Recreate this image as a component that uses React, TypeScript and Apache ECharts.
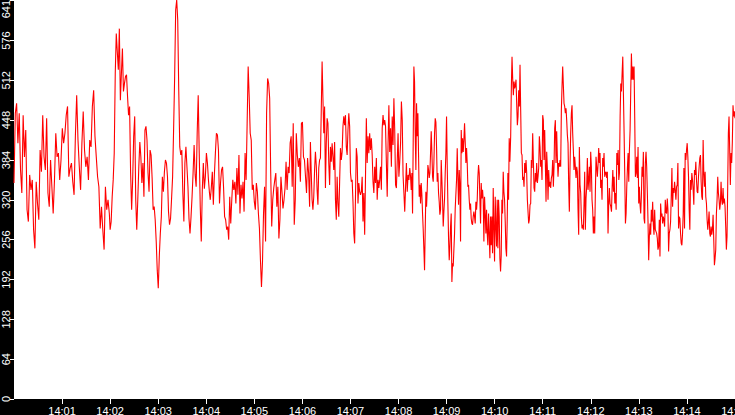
import React, { useEffect, useRef } from 'react';
import * as echarts from 'echarts';

// tick values / labels
const yTickValues = [0, 64, 128, 192, 256, 320, 384, 448, 512, 576, 641];
const xTickSeconds = [60, 120, 180, 240, 300, 360, 420, 480, 540, 600, 660, 720, 780, 840, 900];
const xTickLabels = ['14:01', '14:02', '14:03', '14:04', '14:05', '14:06', '14:07', '14:08', '14:09', '14:10', '14:11', '14:12', '14:13', '14:14', '14:15'];

// samples, one array per stretch of time (seconds after 14:00)
const spans = [
  [0, 119],
  [120, 244],
  [245, 369],
  [370, 494],
  [495, 619],
  [620, 744],
  [745, 900],
];

const from1400 = [
  347, 459, 475, 411, 459, 368, 331, 456, 389, 432, 304, 285, 360, 336, 352, 272, 242, 349, 314, 288,
  400, 365, 456, 389, 368, 451, 331, 309, 384, 341, 298, 352, 427, 389, 395, 352, 384, 435, 411, 427,
  456, 470, 357, 371, 379, 349, 328, 422, 488, 416, 373, 336, 411, 462, 400, 373, 389, 352, 416, 405,
  470, 496, 422, 389, 357, 341, 274, 309, 272, 240, 341, 304, 320, 298,
];

const from1402 = [
  272, 285, 325, 352, 395, 523, 587, 558, 529, 595, 480, 523, 563, 494, 507, 518, 521, 486, 456, 470,
  363, 304, 352, 422, 454, 320, 272, 320, 373, 413, 389, 347, 379, 325, 432, 438, 416, 363, 333, 400,
  392, 355, 304, 309, 288, 253, 207, 178, 229, 266, 293, 357, 333, 365, 384, 379, 357, 301, 280, 290,
  322, 357, 435, 518, 625, 641, 609, 496, 405, 392, 400, 331, 285, 379, 405, 373, 341, 290, 266, 293,
  325, 363, 408, 360, 341, 427, 488, 395, 309, 253, 336, 379, 338, 357, 395, 379, 352, 331,
];

const from1404 = [
  320, 339, 365, 312, 360, 395, 427, 424, 400, 314, 347, 368, 373, 339, 293, 288, 272, 277, 256, 325,
  282, 320, 352, 336, 349, 314, 371, 328, 392, 298, 344, 322, 349, 301, 395, 352, 443, 534, 486, 427,
  416, 336, 344, 317, 304, 347, 333, 298, 274, 223, 180, 221, 298, 341, 253, 459, 515, 507, 483, 365,
  277, 320, 339, 352, 363, 309, 341, 258, 288, 357, 333, 306, 320, 339, 381, 336, 373, 363, 411, 422,
  341, 443, 280, 320, 427, 392, 373, 387, 349, 443, 445, 389, 384, 357, 331, 387, 363, 309,
];

const from1406 = [
  413, 363, 320, 304, 325, 368, 397, 376, 336, 312, 371, 384, 387, 464, 542, 483, 427, 470, 339, 411,
  451, 443, 379, 344, 405, 381, 411, 389, 368, 413, 320, 288, 357, 314, 293, 349, 403, 384, 397, 438,
  454, 440, 456, 405, 392, 432, 459, 438, 363, 349, 352, 317, 266, 250, 325, 403, 389, 314, 347, 333,
  328, 333, 357, 285, 331, 264, 357, 451, 379, 422, 395, 427, 400, 419, 392, 349, 331, 373, 347, 387,
  320, 352, 339, 352, 373, 336, 435, 456, 440, 448, 438, 379, 325, 408, 472, 397, 435, 373, 454, 408,
  483, 432, 344, 339, 381, 427, 357, 381, 411, 478, 448, 360, 331, 301, 341, 379, 333, 360, 352, 371,
];

const from1408 = [
  357, 336, 363, 298, 416, 534, 510, 427, 368, 475, 422, 459, 392, 325, 344, 314, 347, 328, 298, 272,
  240, 207, 272, 333, 309, 336, 376, 368, 355, 363, 395, 430, 397, 357, 349, 379, 427, 451, 445, 405,
  349, 363, 331, 317, 296, 304, 384, 352, 320, 277, 301, 322, 363, 395, 454, 376, 314, 258, 223, 245,
  277, 298, 188, 218, 213, 240, 266, 306, 306, 352, 403, 357, 312, 368, 344, 253, 432, 395, 419, 397,
  416, 443, 413, 379, 403, 379, 341, 344, 320, 304, 314, 290, 282, 280, 293, 301, 293, 282, 317, 304,
  320, 357, 376, 363, 320, 282, 347, 322, 336, 320, 253, 325, 298, 266, 304, 266, 247, 298, 266, 226,
  293, 247, 293, 234, 339, 274, 221, 325, 277, 245, 320, 242, 320, 293, 226, 205, 231, 320, 298, 365,
  333, 320, 285, 242, 229, 288, 363, 320, 419, 381,
];

const from1410 = [
  422, 502, 550, 515, 488, 510, 499, 504, 513, 475, 440, 454, 496, 470, 537, 464, 395, 392, 352, 357,
  341, 379, 363, 384, 363, 320, 320, 282, 288, 312, 314, 384, 371, 427, 384, 339, 333, 363, 349, 379,
  347, 357, 371, 422, 405, 373, 384, 352, 456, 448, 384, 432, 379, 317, 397, 371, 320, 368, 341, 349,
  339, 355, 360, 384, 341, 373, 435, 448, 379, 430, 387, 357, 379, 373, 384, 373, 464, 502, 534, 504,
  475, 470, 459, 467, 448, 424, 411, 344, 301, 373, 427, 459, 472, 427, 400, 368, 389, 373, 355, 373,
  365, 304, 264, 405, 344, 331, 293, 274, 280, 272, 314, 365, 272, 322, 341, 387, 336, 352, 373, 333,
  397, 373, 320, 304, 266, 293, 266, 331, 389, 373, 357, 376, 403, 379, 395, 339, 352, 320, 387, 373,
  395, 357, 363, 365, 355, 365, 266, 314, 339, 314,
];

const from1412 = [
  309, 301, 341, 368, 333, 357, 314, 331, 304, 395, 376, 400, 352, 363, 454, 507, 494, 523, 550, 488,
  427, 360, 282, 298, 341, 371, 395, 349, 400, 432, 496, 555, 513, 534, 513, 534, 451, 357, 363, 389,
  355, 405, 314, 341, 312, 298, 325, 373, 357, 397, 290, 282, 379, 397, 373, 331, 285, 223, 261, 282,
  264, 304, 285, 317, 280, 264, 304, 272, 272, 266, 258, 240, 245, 288, 229, 314, 293, 298, 282, 293,
  288, 277, 320, 301, 298, 322, 304, 237, 266, 272, 285, 325, 371, 309, 339, 331, 349, 336, 320, 341,
  344, 379, 274, 293, 290, 266, 250, 247, 266, 298, 371, 274, 395, 384, 400, 411, 389, 357, 304, 272,
  352, 336, 363, 352, 336, 312, 368, 360, 381, 352, 333, 331, 357, 373, 387, 392, 349, 325, 320, 416,
  363, 341, 365, 325, 314, 288, 272, 285, 301, 266, 261, 277, 264, 272, 296, 256, 215, 226, 240, 298,
  320, 357, 331, 320, 304, 314, 349, 320, 312, 339, 314, 322, 309, 277, 240, 261, 341, 427, 454, 400,
  344, 395, 379, 413, 472, 454, 462, 451,
];

const segments = [from1400, from1402, from1404, from1406, from1408, from1410, from1412];

const App: React.FC = () => {
  const chartRef = useRef<HTMLDivElement>(null);

  useEffect(() => {
    if (!chartRef.current) return;
    const chart = echarts.init(chartRef.current, undefined, { renderer: 'svg' });

    const points: number[][] = [];
    segments.forEach((vals, s) => {
      const [t0, t1] = spans[s];
      vals.forEach((v, i) => {
        const t = vals.length > 1 ? t0 + ((t1 - t0) * i) / (vals.length - 1) : t0;
        points.push([t, v]);
      });
    });

    const option: any = {
      animation: false,
      backgroundColor: '#000',
      grid: {
        left: 14,
        right: 0,
        top: 0,
        bottom: 16,
        show: true,
        backgroundColor: '#fff',
        borderWidth: 0,
        containLabel: false,
        outerBoundsMode: 'none',
      },
      xAxis: {
        type: 'value',
        min: 0,
        max: 900,
        axisLine: { show: false },
        splitLine: { show: false },
        axisTick: {
          show: true,
          length: 5,
          customValues: xTickSeconds,
          lineStyle: { color: '#fff', width: 1 },
        },
        axisLabel: {
          customValues: xTickSeconds,
          showMinLabel: true,
          showMaxLabel: true,
          color: '#fff',
          fontFamily: 'Liberation Sans',
          fontSize: 11,
          margin: 6,
          formatter: (v: number) => xTickLabels[xTickSeconds.indexOf(v)] ?? '',
        },
      },
      yAxis: {
        type: 'value',
        min: 0,
        max: 641,
        axisLine: { show: false },
        splitLine: { show: false },
        axisTick: {
          show: true,
          length: 4,
          customValues: yTickValues,
          lineStyle: { color: '#fff', width: 1 },
        },
        axisLabel: {
          customValues: yTickValues,
          showMinLabel: true,
          showMaxLabel: true,
          alignMaxLabel: 'right',
          rotate: 90,
          color: '#fff',
          fontFamily: 'Liberation Sans',
          fontSize: 11,
          margin: 3,
        },
      },
      series: [
        {
          type: 'line',
          data: points,
          symbol: 'none',
          lineStyle: { color: '#ff0000', width: 1.1 },
        },
      ],
    };

    chart.setOption(option);
    return () => chart.dispose();
  }, []);

  return (
    <div
      ref={chartRef}
      style={{ position: 'fixed', left: 0, top: 0, width: 735, height: 415 }}
    />
  );
};

export default App;
